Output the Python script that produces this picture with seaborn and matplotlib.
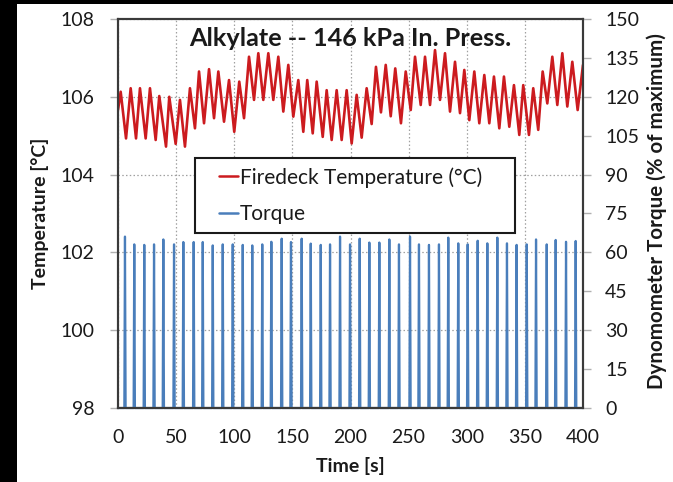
import numpy as np
import pandas as pd
import matplotlib
matplotlib.use("Agg")
import matplotlib.pyplot as plt
from matplotlib.patches import Rectangle
import seaborn as sns

# ---------------- data ----------------
title = "Alkylate -- 146 kPa In. Press."
temp_label = "Firedeck Temperature (°C)"
torque_label = "Torque"

temp_start = (0.0, 105.66)
temp_end = (400.0, 106.82)

temp_peak_t = [2.3, 10.9, 18.9, 27.5, 35.5, 44.1, 53.3, 61.9, 69.7, 78.3,
               86.3, 95.5, 104.3, 112.7, 120.7, 129.3, 137.9, 146.5, 155.1, 162.8,
               170.9, 179.5, 188.1, 196.7, 205.3, 213.9, 221.9, 230.3, 238.5, 247.5,
               255.5, 264.1, 272.7, 281.3, 289.9, 297.9, 306.5, 315.1, 323.4, 332.0,
               340.6, 348.6, 357.2, 365.3, 373.6, 382.2, 390.8]
temp_peak = [106.13, 106.22, 106.22, 106.22, 106.02, 106.00, 105.92, 106.22, 106.65, 106.71,
             106.65, 106.43, 106.39, 107.03, 107.12, 107.12, 107.03, 106.82, 106.43, 106.43,
             106.39, 106.17, 106.17, 106.17, 106.05, 106.22, 106.77, 106.82, 106.73, 106.65,
             107.03, 107.03, 107.20, 107.12, 106.90, 106.69, 106.65, 106.56, 106.52, 106.52,
             106.30, 106.30, 106.22, 106.65, 107.03, 107.12, 106.90]

temp_trough_t = [6.9, 15.5, 23.8, 32.4, 41.3, 49.6, 57.6, 66.2, 74.0, 82.6,
                 91.2, 100.0, 108.4, 117.0, 125.0, 133.6, 142.2, 150.8, 159.4, 167.5,
                 176.1, 183.8, 192.4, 201.0, 209.6, 218.2, 226.2, 234.6, 243.4, 251.8,
                 260.4, 268.4, 277.0, 285.6, 294.2, 302.2, 310.8, 319.4, 328.0, 336.6,
                 345.2, 353.5, 361.5, 369.3, 377.9, 386.5, 395.4]
temp_trough = [104.93, 104.93, 104.93, 104.89, 104.72, 104.79, 104.72, 105.19, 105.32, 105.45,
               105.36, 105.10, 105.45, 105.92, 105.92, 105.92, 105.62, 105.49, 105.10, 105.06,
               104.97, 104.89, 104.89, 104.80, 104.95, 105.30, 105.60, 105.50, 105.32, 105.66,
               105.79, 105.79, 105.92, 105.62, 105.58, 105.40, 105.32, 105.32, 105.19, 105.23,
               105.02, 105.02, 105.15, 105.83, 105.79, 105.75, 105.66]

torque_t = [6.0, 14.0, 22.6, 31.0, 39.0, 48.2, 56.2, 65.1, 72.9, 81.5,
            90.1, 98.7, 107.3, 115.5, 124.1, 131.9, 140.8, 148.8, 158.0, 165.8,
            174.4, 182.4, 191.0, 199.6, 207.9, 216.2, 224.8, 233.4, 241.7, 251.2,
            258.9, 267.5, 276.1, 284.1, 292.7, 300.8, 309.4, 317.7, 326.3, 334.6,
            342.9, 351.6, 359.6, 368.8, 376.5, 385.4, 393.7]
torque_peak = [66.1, 63.1, 62.9, 63.1, 65.0, 63.1, 64.0, 64.0, 64.0, 62.7,
               63.1, 63.1, 62.9, 62.7, 63.1, 64.1, 65.3, 64.0, 65.3, 63.4,
               62.9, 63.1, 66.1, 63.1, 65.3, 63.8, 63.8, 65.0, 63.1, 66.1,
               63.1, 62.9, 63.1, 65.7, 63.5, 63.1, 64.5, 63.5, 65.7, 63.5,
               62.9, 63.1, 65.0, 63.1, 64.8, 64.1, 64.4]

x_ticks = [0, 50, 100, 150, 200, 250, 300, 350, 400]
temp_ticks = [98, 100, 102, 104, 106, 108]
torque_ticks = [0, 15, 30, 45, 60, 75, 90, 105, 120, 135, 150]

# ---------------- build tables ----------------
pts = [temp_start] + list(zip(temp_peak_t, temp_peak)) + list(zip(temp_trough_t, temp_trough)) + [temp_end]
pts.sort(key=lambda p: p[0])
temp_df = pd.DataFrame(pts, columns=["time", "temp"])

half_w = 0.55
tq = [(0.0, 0.0)]
for t, p in zip(torque_t, torque_peak):
    tq += [(t - half_w, 0.0), (t, p), (t + half_w, 0.0)]
tq.append((400.0, 0.0))
torque_df = pd.DataFrame(tq, columns=["time", "torque"])

# ---------------- style ----------------
sns.set_style("white")
plt.rcParams["font.family"] = ["Lato", "DejaVu Sans"]
text_col = "#1a1a1a"
red = "#CC1B1F"
blue = "#4A7EBB"

W, H = 673, 482
fig = plt.figure(figsize=(W / 100, H / 100), dpi=100)
ax = fig.add_axes([118 / W, 1 - 408 / H, 465 / W, 389 / H])
ax2 = ax.twinx()

sns.lineplot(data=temp_df, x="time", y="temp", ax=ax, color=red, lw=1.9,
             estimator=None, sort=False, label=temp_label, legend=False)
sns.lineplot(data=torque_df, x="time", y="torque", ax=ax2, color=blue, lw=1.6,
             estimator=None, sort=False, label=torque_label, legend=False)
for ln in ax2.lines:
    ln.set_clip_on(False)
    ln.set_solid_joinstyle("round")
for ln in ax.lines:
    ln.set_solid_joinstyle("round")

ax.set_xlim(0, 400)
ax.set_ylim(98, 108)
ax2.set_ylim(0, 150)
ax.set_xticks(x_ticks)
ax.set_yticks(temp_ticks)
ax2.set_yticks(torque_ticks)
ax.set_xticklabels([str(v) for v in x_ticks])
ax.set_yticklabels([str(v) for v in temp_ticks])
ax2.set_yticklabels([str(v) for v in torque_ticks])

ax.grid(True, linestyle=(0, (1.2, 1.8)), color="#a0a0a0", lw=0.9)
ax.set_axisbelow(True)

for a in (ax, ax2):
    for s in a.spines.values():
        s.set_color("#3a3a3a")
        s.set_linewidth(1.5)
ax.tick_params(axis="y", direction="out", length=6, width=1, color="#b0b0b0",
               labelsize=14, labelcolor=text_col, pad=11)
ax.tick_params(axis="x", direction="out", length=6, width=1, color="#b0b0b0",
               labelsize=14, labelcolor=text_col, pad=9)
ax2.tick_params(axis="y", direction="out", length=6, width=1, color="#b0b0b0",
                labelsize=14, labelcolor=text_col, pad=10)

ax.set_xlabel("Time [s]", fontsize=14, fontweight="bold", color=text_col)
ax.set_ylabel("Temperature [°C]", fontsize=14, fontweight="bold", color=text_col)
ax2.set_ylabel("Dynomometer Torque (% of maximum)", fontsize=14.8, fontweight="bold",
               color=text_col, rotation=90)
ax.xaxis.label.set_va("center")
ax.yaxis.label.set_va("center")
ax2.yaxis.label.set_va("center")
ax.xaxis.set_label_coords(0.5, (408 - 466) / 389)
ax.yaxis.set_label_coords((40 - 118) / 465, 0.5)
ax2.yaxis.set_label_coords((657 - 118) / 465, (408 - 211) / 389)

ax.text(0.5, (408 - 39) / 389, title, transform=ax.transAxes, ha="center", va="center",
        fontsize=18.2, fontweight="bold", color=text_col)

# legend box + frameless legend
box = Rectangle(((195 - 118) / 465, (408 - 233) / 389), (515 - 195) / 465, (233 - 158) / 389,
                transform=ax2.transAxes, facecolor="white", edgecolor="#1a1a1a",
                lw=1.5, zorder=9, clip_on=False)
ax2.add_patch(box)
handles = ax.get_lines()[:1] + ax2.get_lines()[:1]
leg = ax2.legend(handles, [temp_label, torque_label], loc="center left",
                 bbox_to_anchor=((219 - 118) / 465, (408 - 195.5) / 389),
                 borderaxespad=0, borderpad=0, fontsize=15, handlelength=0.9,
                 handletextpad=0.1, labelspacing=0.78, frameon=False)
for t in leg.get_texts():
    t.set_color(text_col)
for h in leg.legend_handles:
    h.set_linewidth(1.8)
leg.set_zorder(10)

# black strips at the image edges
fig.patches.append(Rectangle((0, 0), 17 / W, 1, transform=fig.transFigure,
                             facecolor="black", edgecolor="none", zorder=5))
fig.patches.append(Rectangle((0, 1 - 4 / H), 1, 4 / H, transform=fig.transFigure,
                             facecolor="black", edgecolor="none", zorder=5))

fig.savefig("out.png", dpi=100)
